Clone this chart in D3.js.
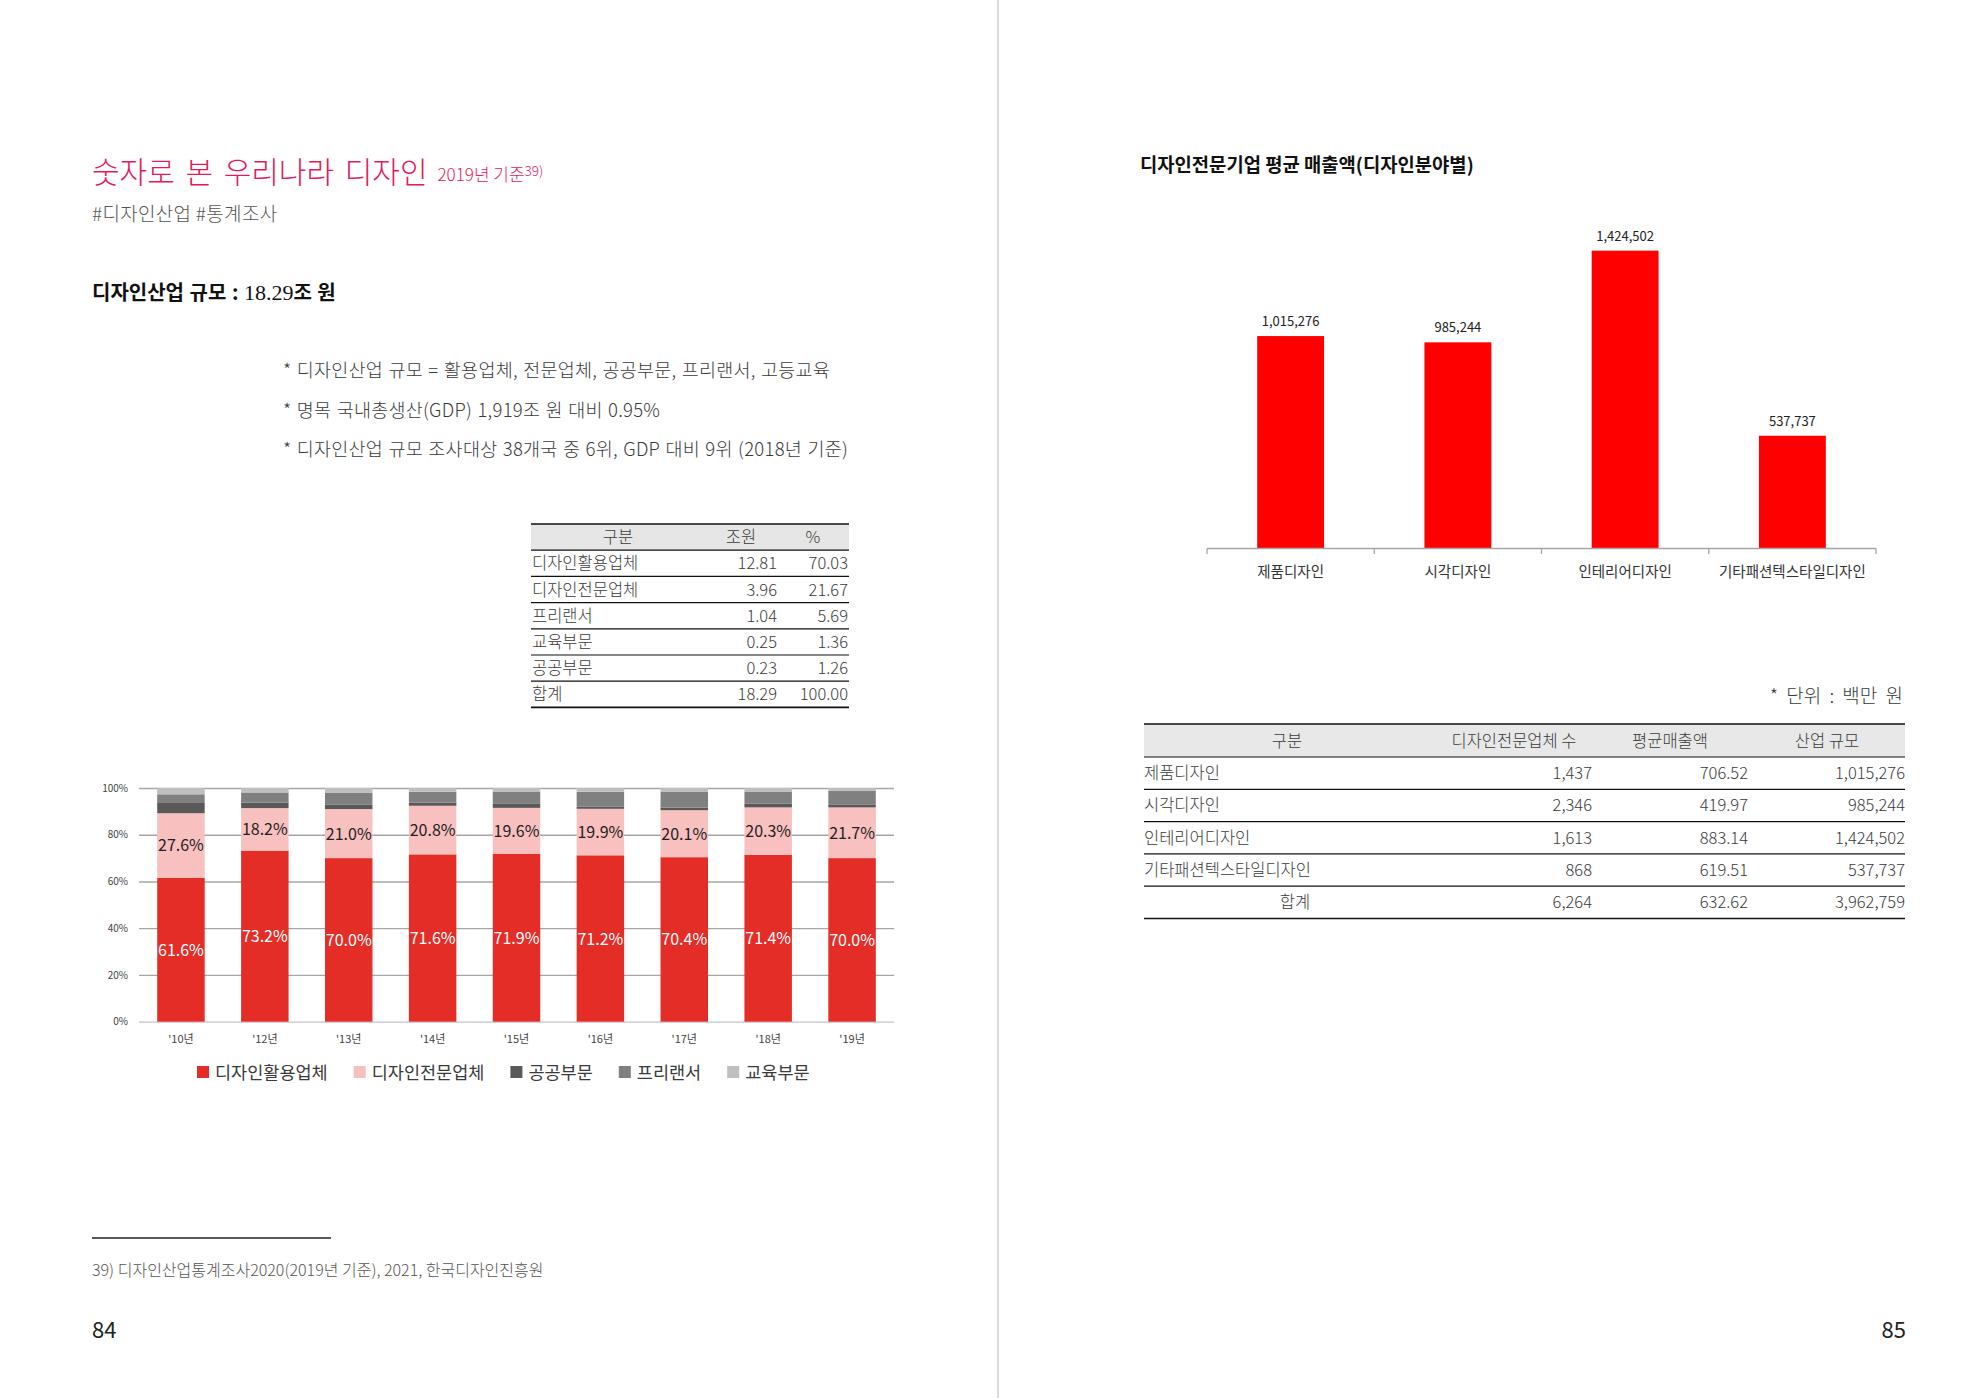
<!DOCTYPE html>
<html>
<head>
<meta charset="utf-8">
<script src="https://cdn.jsdelivr.net/npm/d3@7"></script>
<style>
  body { margin: 0; background: #fff; }
  svg { display: block; }
  text { font-family: "Noto Sans CJK KR", "Noto Sans", sans-serif; }
</style>
</head>
<body>
<div id="page"></div>
<script>
// ---- data: stacked share chart (%)
const years = ["'10년", "'12년", "'13년", "'14년", "'15년", "'16년", "'17년", "'18년", "'19년"];
const shareUse = [61.6, 73.2, 70.0, 71.6, 71.9, 71.2, 70.4, 71.4, 70.0];
const sharePro = [27.6, 18.2, 21.0, 20.8, 19.6, 19.9, 20.1, 20.3, 21.7];
const sharePublic = [4.7, 2.3, 1.8, 1.3, 1.7, 1.0, 1.1, 1.7, 1.3];
const shareFreelance = [3.4, 4.4, 5.1, 4.7, 5.3, 6.3, 6.7, 5.1, 5.7];
const shareEdu = [2.7, 1.9, 2.1, 1.6, 1.5, 1.6, 1.7, 1.5, 1.3];
const seriesNames = ["디자인활용업체", "디자인전문업체", "공공부문", "프리랜서", "교육부문"];
const yTicks = [0, 20, 40, 60, 80, 100];

// ---- data: industry size table (조원, %)
const sizeRows = ["디자인활용업체", "디자인전문업체", "프리랜서", "교육부문", "공공부문", "합계"];
const sizeTrillion = [12.81, 3.96, 1.04, 0.25, 0.23, 18.29];
const sizePercent = [70.03, 21.67, 5.69, 1.36, 1.26, 100.00];

// ---- data: design firms by field
const fields = ["제품디자인", "시각디자인", "인테리어디자인", "기타패션텍스타일디자인"];
const firmCounts = [1437, 2346, 1613, 868];
const avgSales = [706.52, 419.97, 883.14, 619.51];
const industrySize = [1015276, 985244, 1424502, 537737];
const totals = [6264, 632.62, 3962759];

// ---- styles
const seriesColors = ["#e52d28", "#f8c0bf", "#595959", "#808080", "#bfbfbf"];
const pink = "#e3195b";
const txt = "#3a3a3a";

const W = 1986, H = 1398;
const svg = d3.select("#page").append("svg")
    .attr("width", W).attr("height", H)
    .attr("viewBox", `0 0 ${W} ${H}`);

// page divider
svg.append("line").attr("x1", 998).attr("x2", 998).attr("y1", 0).attr("y2", H)
    .attr("stroke", "#cfcfcf").attr("stroke-width", 1.5);

// ================= left page =================
const title = svg.append("text").attr("x", 92).attr("y", 183)
    .attr("font-size", 30).attr("font-weight", 300).attr("fill", pink)
    .attr("word-spacing", 4)
    .text("숫자로 본 우리나라 디자인");
const tEnd = 92 + title.node().getComputedTextLength() + 10;
const sub = svg.append("text").attr("x", tEnd).attr("y", 181)
    .attr("font-size", 17).attr("font-weight", 300).attr("fill", pink);
sub.append("tspan").text("2019년 기준");
sub.append("tspan").attr("font-size", 13.5).attr("dy", -5).text("39)");

svg.append("text").attr("x", 92).attr("y", 221)
    .attr("font-size", 19).attr("fill", "#555").attr("font-weight", 300)
    .attr("letter-spacing", 0.3)
    .text("#디자인산업 #통계조사");

const head = svg.append("text").attr("x", 92).attr("y", 300)
    .attr("font-size", 20).attr("font-weight", 700).attr("fill", "#111")
    .attr("word-spacing", 1);
head.append("tspan").text("디자인산업 규모 : ");
head.append("tspan").attr("font-family", "'Liberation Serif', serif").attr("font-size", 22)
    .attr("font-weight", 400).text("18.29");
head.append("tspan").text("조 원");

const bullets = [
  "* 디자인산업 규모 = 활용업체, 전문업체, 공공부문, 프리랜서, 고등교육",
  "* 명목 국내총생산(GDP) 1,919조 원 대비 0.95%",
  "* 디자인산업 규모 조사대상 38개국 중 6위, GDP 대비 9위 (2018년 기준)"
];
svg.append("g").selectAll("text").data(bullets).join("text")
    .attr("x", 283).attr("y", (d, i) => 377 + i * 39.5)
    .attr("font-size", 18.5).attr("font-weight", 300).attr("fill", txt)
    .attr("letter-spacing", 0.25).attr("word-spacing", 1)
    .text(d => d);

// ---- small table
(function () {
  const x0 = 531, x1 = 849, top = 524, rh = 26.2;
  const g = svg.append("g");
  g.append("rect").attr("x", x0).attr("y", top).attr("width", x1 - x0).attr("height", rh)
      .attr("fill", "#e6e6e6");
  d3.range(sizeRows.length + 2).forEach(i => {
    g.append("line").attr("x1", x0).attr("x2", x1)
        .attr("y1", top + i * rh).attr("y2", top + i * rh)
        .attr("stroke", "#111").attr("stroke-width", i === 0 || i === sizeRows.length + 1 ? 1.6 : 1.2);
  });
  const hy = top + rh / 2 + 6;
  [["구분", 618], ["조원", 741], ["%", 813]].forEach(([t, cx]) => {
    g.append("text").attr("x", cx).attr("y", hy).attr("text-anchor", "middle")
        .attr("font-size", 16.5).attr("font-weight", 300).attr("fill", txt).text(t);
  });
  const f2 = d3.format(".2f");
  sizeRows.forEach((r, i) => {
    const y = top + (i + 1) * rh + rh / 2 + 6;
    g.append("text").attr("x", x0 + 1).attr("y", y).attr("font-size", 16.5)
        .attr("font-weight", 300).attr("fill", txt).text(r);
    g.append("text").attr("x", 777).attr("y", y).attr("text-anchor", "end")
        .attr("font-size", 16.5).attr("font-weight", 300).attr("fill", txt).text(f2(sizeTrillion[i]));
    g.append("text").attr("x", 848).attr("y", y).attr("text-anchor", "end")
        .attr("font-size", 16.5).attr("font-weight", 300).attr("fill", txt).text(f2(sizePercent[i]));
  });
})();

// ---- stacked share chart
(function () {
  const rows = years.map((yr, i) => ({
    year: yr,
    [seriesNames[0]]: shareUse[i],
    [seriesNames[1]]: sharePro[i],
    [seriesNames[2]]: sharePublic[i],
    [seriesNames[3]]: shareFreelance[i],
    [seriesNames[4]]: shareEdu[i]
  }));
  const stacked = d3.stack().keys(seriesNames)(rows);

  const x = d3.scaleBand().domain(years).range([139, 894])
      .paddingInner(0.434).paddingOuter(0.217);
  const y = d3.scaleLinear().domain([0, 100]).range([1021.7, 788]);

  const yAxis = svg.append("g").attr("transform", "translate(139,0)")
      .call(d3.axisLeft(y).tickValues(yTicks).tickSize(-755).tickPadding(11)
          .tickFormat(d => d + "%"));
  yAxis.select(".domain").remove();
  yAxis.selectAll(".tick line").attr("stroke", d => d === 0 ? "#c4c4c4" : "#a6a6a6").attr("stroke-width", 1.3);
  yAxis.selectAll(".tick text").attr("font-size", 10).attr("fill", "#444")
      .attr("font-family", "'DejaVu Sans', sans-serif");

  const layers = svg.append("g").selectAll("g").data(stacked).join("g")
      .attr("fill", (d, i) => seriesColors[i]);
  layers.selectAll("rect").data(d => d).join("rect")
      .attr("x", d => x(d.data.year))
      .attr("width", x.bandwidth())
      .attr("y", d => y(d[1]))
      .attr("height", d => y(d[0]) - y(d[1]));

  // value labels on the two main series
  [0, 1].forEach(k => {
    svg.append("g").selectAll("text").data(stacked[k]).join("text")
        .attr("x", d => x(d.data.year) + x.bandwidth() / 2)
        .attr("y", d => y((d[0] + d[1]) / 2) + 6)
        .attr("text-anchor", "middle")
        .attr("font-family", "'Noto Sans', sans-serif")
        .attr("font-size", 16)
        .attr("fill", k === 0 ? "#fff" : "#222")
        .text(d => d3.format(".1f")(d[1] - d[0]) + "%");
  });

  const xAxis = svg.append("g").attr("transform", "translate(0,1021.7)")
      .call(d3.axisBottom(x).tickSize(0).tickPadding(13.5));
  xAxis.select(".domain").remove();
  xAxis.selectAll(".tick text").attr("font-size", 11).attr("fill", "#444");

  // legend
  const lg = svg.append("g");
  let lx = 197;
  seriesNames.forEach((n, i) => {
    lg.append("rect").attr("x", lx).attr("y", 1066).attr("width", 12).attr("height", 12)
        .attr("fill", seriesColors[i]);
    const t = lg.append("text").attr("x", lx + 18).attr("y", 1078.5)
        .attr("font-size", 17.5).attr("fill", txt).text(n);
    lx += 18 + t.node().getComputedTextLength() + 26;
  });
})();

// footnote
svg.append("line").attr("x1", 92).attr("x2", 331).attr("y1", 1238).attr("y2", 1238)
    .attr("stroke", "#222").attr("stroke-width", 1.3);
svg.append("text").attr("x", 92).attr("y", 1276).attr("font-size", 16)
    .attr("font-weight", 300).attr("fill", "#555")
    .text("39) 디자인산업통계조사2020(2019년 기준), 2021, 한국디자인진흥원");

svg.append("text").attr("x", 92).attr("y", 1338)
    .attr("font-family", "'Liberation Serif', serif").attr("font-size", 22).attr("fill", "#222")
    .text("84");
svg.append("text").attr("x", 1906).attr("y", 1338).attr("text-anchor", "end")
    .attr("font-family", "'Liberation Serif', serif").attr("font-size", 22).attr("fill", "#222")
    .text("85");

// ================= right page =================
svg.append("text").attr("x", 1140).attr("y", 172)
    .attr("font-size", 18.8).attr("font-weight", 700).attr("fill", "#111")
    .text("디자인전문기업 평균 매출액(디자인분야별)");

// ---- bar chart
(function () {
  const x = d3.scaleBand().domain(fields).range([1207, 1876])
      .paddingInner(0.6).paddingOuter(0.3);
  const y = d3.scaleLinear().domain([0, 1600000]).range([548, 214]);
  const g = svg.append("g");

  g.selectAll("rect").data(industrySize).join("rect")
      .attr("x", (d, i) => x(fields[i]))
      .attr("width", x.bandwidth())
      .attr("y", d => y(d))
      .attr("height", d => y(0) - y(d))
      .attr("fill", "#ff0000");

  g.selectAll("text.val").data(industrySize).join("text")
      .attr("class", "val")
      .attr("x", (d, i) => x(fields[i]) + x.bandwidth() / 2)
      .attr("y", d => y(d) - 10)
      .attr("text-anchor", "middle")
      .attr("font-family", "'Noto Sans', sans-serif")
      .attr("font-size", 13).attr("fill", "#222")
      .text(d3.format(","));

  // axis line with category boundary ticks
  const [r0, r1] = x.range();
  g.append("line").attr("x1", r0).attr("x2", r1).attr("y1", 548.5).attr("y2", 548.5)
      .attr("stroke", "#a6a6a6").attr("stroke-width", 1.3);
  d3.range(fields.length + 1).forEach(i => {
    const tx = r0 + i * x.step();
    g.append("line").attr("x1", tx).attr("x2", tx).attr("y1", 548.5).attr("y2", 554)
        .attr("stroke", "#a6a6a6").attr("stroke-width", 1.3);
  });
  const xa = g.append("g").attr("transform", "translate(0,548)")
      .call(d3.axisBottom(x).tickSize(0).tickPadding(19));
  xa.select(".domain").remove();
  xa.selectAll(".tick text").attr("font-size", 14.5).attr("fill", "#333");
})();

svg.append("text").attr("x", 1903).attr("y", 703).attr("text-anchor", "end")
    .attr("font-size", 19).attr("font-weight", 300).attr("fill", txt)
    .attr("word-spacing", 4)
    .text("* 단위 : 백만 원");

// ---- field table
(function () {
  const x0 = 1144, x1 = 1905, top = 724, hh = 33, rh = 32.3;
  const g = svg.append("g");
  g.append("rect").attr("x", x0).attr("y", top).attr("width", x1 - x0).attr("height", hh)
      .attr("fill", "#e8e8e8");
  const lineY = [top, top + hh].concat(d3.range(1, fields.length + 2).map(i => top + hh + i * rh));
  lineY.forEach((ly, i) => {
    g.append("line").attr("x1", x0).attr("x2", x1).attr("y1", ly).attr("y2", ly)
        .attr("stroke", "#111").attr("stroke-width", i === 0 || i === lineY.length - 1 ? 1.6 : 1.2);
  });
  const fs = 16.5;
  [["구분", 1287], ["디자인전문업체 수", 1514], ["평균매출액", 1670], ["산업 규모", 1827]].forEach(([t, cx]) => {
    g.append("text").attr("x", cx).attr("y", top + hh / 2 + 6).attr("text-anchor", "middle")
        .attr("font-size", fs).attr("font-weight", 300).attr("fill", txt).text(t);
  });
  const fc = d3.format(","), f2 = d3.format(".2f");
  const colX = [1592, 1748, 1905];
  const rowsOut = fields.map((f, i) => [f, fc(firmCounts[i]), f2(avgSales[i]), fc(industrySize[i])]);
  rowsOut.push(["합계", fc(totals[0]), f2(totals[1]), fc(totals[2])]);
  rowsOut.forEach((r, i) => {
    const y = top + hh + i * rh + rh / 2 + 6;
    const isTotal = i === rowsOut.length - 1;
    g.append("text").attr("x", isTotal ? 1295 : x0).attr("y", y)
        .attr("text-anchor", isTotal ? "middle" : "start")
        .attr("font-size", fs).attr("font-weight", 300).attr("fill", txt).text(r[0]);
    r.slice(1).forEach((v, j) => {
      g.append("text").attr("x", colX[j]).attr("y", y).attr("text-anchor", "end")
          .attr("font-size", fs).attr("font-weight", 300).attr("fill", txt).text(v);
    });
  });
})();
</script>
</body>
</html>
